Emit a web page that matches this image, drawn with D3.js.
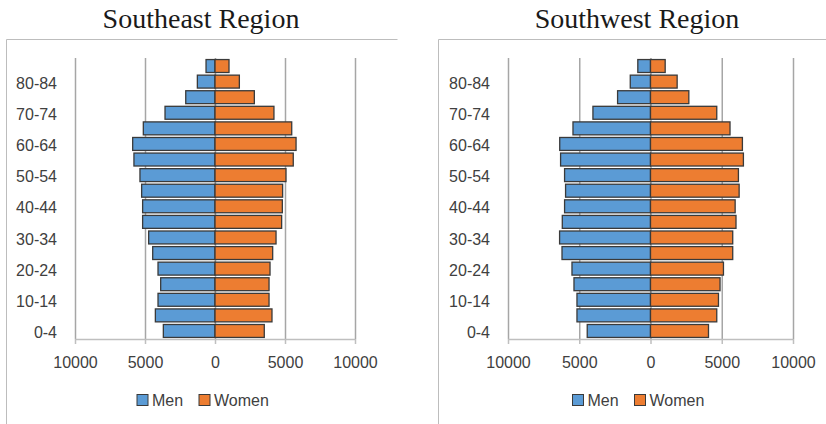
<!DOCTYPE html>
<html>
<head>
<meta charset="utf-8">
<script src="https://cdn.jsdelivr.net/npm/d3@7"></script>
<style>
  html, body { margin: 0; padding: 0; background: #fff; }
  svg { display: block; }
</style>
</head>
<body>
<svg id="chart" width="826" height="424"></svg>
<script>
// ---- Data ----
const ageGroups = ["0-4","5-9","10-14","15-19","20-24","25-29","30-34","35-39","40-44",
                   "45-49","50-54","55-59","60-64","65-69","70-74","75-79","80-84","85+"];
const labeledAges = ["0-4","10-14","20-24","30-34","40-44","50-54","60-64","70-74","80-84"];
const tickValues = [-10000, -5000, 0, 5000, 10000];
const seriesNames = ["Men", "Women"];

const southeastMen   = [3690, 4260, 4070, 3880, 4070, 4450, 4740, 5170, 5170,
                        5240, 5360, 5790, 5880, 5120, 3570, 2090, 1260, 640];
const southeastWomen = [3520, 4070, 3860, 3860, 3930, 4120, 4360, 4760, 4810,
                        4830, 5070, 5590, 5790, 5480, 4210, 2810, 1740, 1000];
const southwestMen   = [4440, 5160, 5160, 5370, 5510, 6210, 6380, 6190, 6030,
                        5960, 6030, 6310, 6370, 5440, 4040, 2310, 1420, 890];
const southwestWomen = [4070, 4650, 4770, 4880, 5120, 5770, 5770, 6000, 5940,
                        6220, 6170, 6520, 6450, 5580, 4650, 2690, 1870, 1030];

const charts = [
  { title: "Southeast Region", men: southeastMen, women: southeastWomen,
    boxX: 6, boxW: 391, titleX: 201, plotL: 75, plotR: 355 },
  { title: "Southwest Region", men: southwestMen, women: southwestWomen,
    boxX: 438, boxW: 400, titleX: 637, plotL: 508, plotR: 793 }
];

const colors = { Men: "#5B9BD5", Women: "#ED7D31" };
const outline = "#3a3a3a";
const textColor = "#404040";
const font = "'Liberation Sans', Arial, sans-serif";

const svg = d3.select("#chart");
const plotTop = 58, plotBottom = 339;

charts.forEach(c => {
  const g = svg.append("g");

  // frame
  g.append("path")
    .attr("d", `M${c.boxX + 0.5},430 V${39.5} H${c.boxX + c.boxW + 0.5}`)
    .attr("fill", "none").attr("stroke", "#bdbdbd").attr("stroke-width", 1);

  // title
  g.append("text")
    .attr("x", c.titleX).attr("y", 28)
    .attr("text-anchor", "middle")
    .attr("font-family", "'Liberation Serif', 'Times New Roman', serif")
    .attr("font-size", 28).attr("fill", "#1a1a1a")
    .text(c.title);

  const x = d3.scaleLinear().domain([-10000, 10000]).range([c.plotL, c.plotR]);
  const y = d3.scaleBand().domain(ageGroups.slice().reverse())
    .range([plotTop, plotBottom]).paddingInner(0.17).paddingOuter(0.1);

  // gridlines
  const grid = g.append("g").attr("transform", `translate(0,${plotBottom})`)
    .call(d3.axisBottom(x).tickValues(tickValues).tickSize(-(plotBottom - plotTop)).tickFormat(""));
  grid.select(".domain").remove();
  grid.selectAll("line").attr("stroke", "#a6a6a6").attr("stroke-width", 1.5);

  // bars
  const rows = ageGroups.map((a, i) => ({ age: a, men: c.men[i], women: c.women[i] }));
  g.append("g").selectAll("rect.men").data(rows).join("rect")
    .attr("x", d => x(-d.men)).attr("width", d => x(0) - x(-d.men))
    .attr("y", d => y(d.age)).attr("height", y.bandwidth())
    .attr("fill", colors.Men).attr("stroke", outline).attr("stroke-width", 1.3);
  g.append("g").selectAll("rect.women").data(rows).join("rect")
    .attr("x", x(0)).attr("width", d => x(d.women) - x(0))
    .attr("y", d => y(d.age)).attr("height", y.bandwidth())
    .attr("fill", colors.Women).attr("stroke", outline).attr("stroke-width", 1.3);

  // x axis
  const xa = g.append("g").attr("transform", `translate(0,${plotBottom})`)
    .call(d3.axisBottom(x).tickValues(tickValues).tickSize(5).tickPadding(13)
      .tickFormat(d => Math.abs(d)));
  xa.select(".domain").attr("stroke", "#bfbfbf").attr("stroke-width", 1.5)
    .attr("d", `M${c.plotL},0.5H${c.plotR}`);
  xa.selectAll("line").attr("stroke", "#bfbfbf").attr("stroke-width", 1.5);
  xa.selectAll("text").attr("font-family", font).attr("font-size", 16).attr("fill", textColor);

  // y axis labels
  const ya = g.append("g").attr("transform", `translate(${c.plotL},0)`)
    .call(d3.axisLeft(y).tickValues(labeledAges).tickSize(0).tickPadding(18));
  ya.select(".domain").remove();
  ya.selectAll("text").attr("font-family", font).attr("font-size", 16).attr("fill", textColor)
    .attr("dy", "0.45em");

  // legend
  const mid = x(0);
  const legend = g.append("g").attr("transform", `translate(${mid - 78},0)`);
  const items = [{ name: "Men", dx: 0 }, { name: "Women", dx: 62 }];
  items.forEach(it => {
    legend.append("rect").attr("x", it.dx).attr("y", 394.5).attr("width", 11).attr("height", 11)
      .attr("fill", colors[it.name]).attr("stroke", outline).attr("stroke-width", 1);
    legend.append("text").attr("x", it.dx + 15).attr("y", 406)
      .attr("font-family", font).attr("font-size", 16).attr("fill", textColor)
      .text(it.name);
  });
});
</script>
</body>
</html>
